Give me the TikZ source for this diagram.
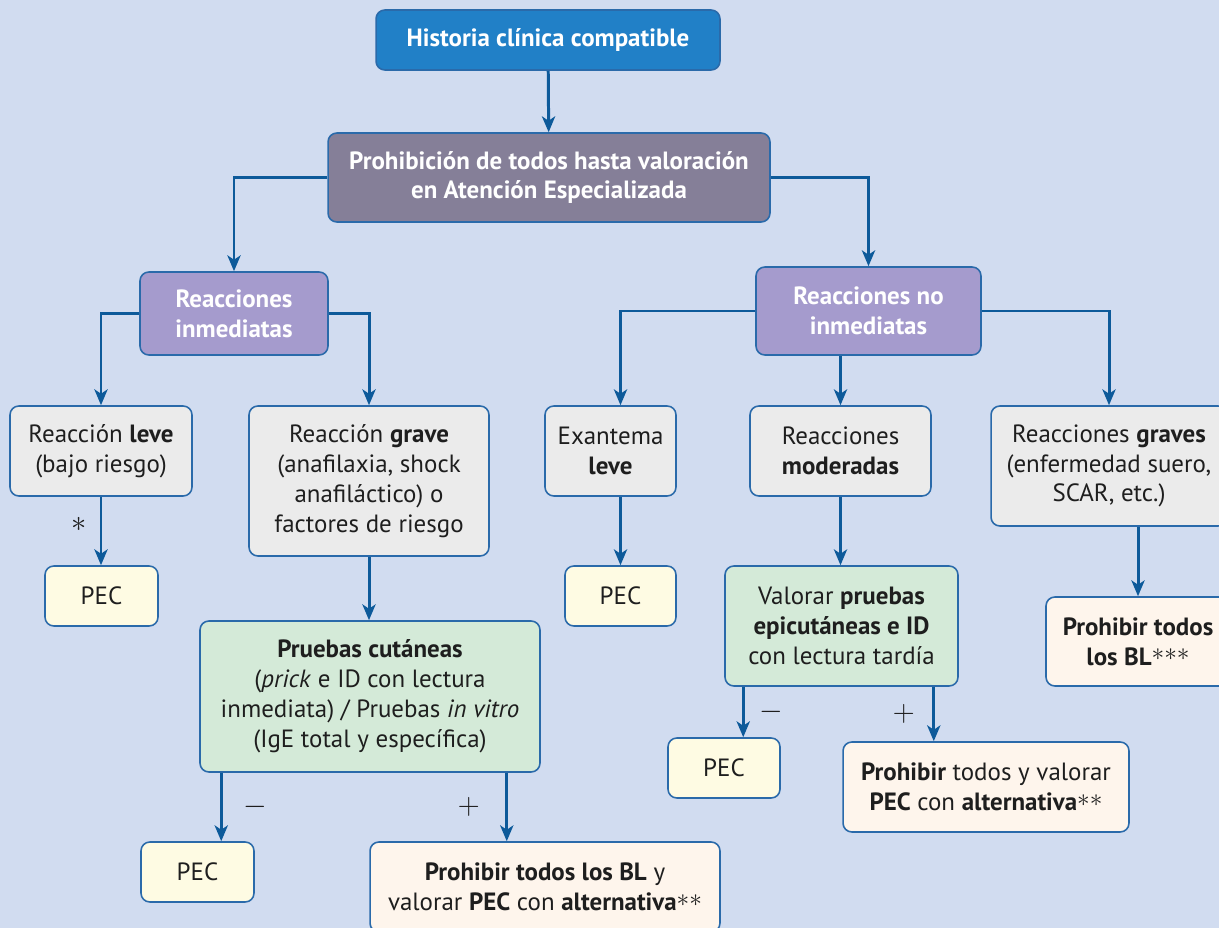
\documentclass[tikz,border=0pt]{standalone}
\usepackage{fontspec}
\setmainfont{PT Sans}
\usetikzlibrary{arrows.meta, positioning, calc}
\definecolor{cbg}{HTML}{D1DCF0}
\definecolor{cedge}{HTML}{2A6AAA}
\definecolor{carrow}{HTML}{0D5A9A}
\definecolor{cblue}{HTML}{2180C7}
\definecolor{cgrape}{HTML}{857F98}
\definecolor{clav}{HTML}{A59BCD}
\definecolor{cgrey}{HTML}{EBEBEB}
\definecolor{cpec}{HTML}{FEFBE3}
\definecolor{cgreen}{HTML}{D4EAD8}
\definecolor{cpeach}{HTML}{FEF5EC}
\definecolor{cink}{HTML}{1E1E1E}
\newcommand{\starmark}[1]{\raisebox{0.35ex}{$#1$}}
\tikzset{
  every picture/.style={font=\fontsize{14.2}{17}\selectfont, line width=0.9pt},
  box/.style={draw=cedge, fill=#1, rounded corners=5pt, align=center, inner sep=2pt, text=cink},
  box/.default=cgrey,
  head/.style={box=#1, text=white, font=\fontsize{14.2}{17}\selectfont\bfseries},
  arrow/.style={-{Stealth[length=9pt, width=7.5pt, inset=2.5pt]}, draw=carrow, line width=1.7pt},
  sign/.style={font=\fontsize{16}{17}\selectfont, text=cink},
}
\begin{document}
\begin{tikzpicture}[x=0.02cm, y=-0.02cm]
  \fill[cbg] (0,0) rectangle (1219,928);
  \useasboundingbox (0,0) rectangle (1219,928);
  % top levels
  \node[head=cblue, minimum width=6.88cm, minimum height=1.2cm] (hist) at (548,40) {Historia clínica compatible};
  \node[head=cgrape, minimum width=8.84cm, minimum height=1.78cm] (prohib) at (549,177.5) {Prohibición de todos hasta valoración\\en Atención Especializada};
  \node[head=clav, minimum width=3.76cm, minimum height=1.66cm] (inmed) at (234,313.5) {Reacciones\\inmediatas};
  \node[head=clav, minimum width=4.5cm, minimum height=1.76cm] (noinmed) at (868.5,311) {Reacciones no\\inmediatas};
  % reaction types
  \node[box, minimum width=3.64cm, minimum height=1.8cm] (leve) at (101,451) {Reacción \textbf{leve}\\(bajo riesgo)};
  \node[box, minimum width=4.8cm, minimum height=3cm] (grave) at (369,481) {Reacción \textbf{grave}\\(anafilaxia, shock\\anafiláctico) o\\factores de riesgo};
  \node[box, minimum width=2.62cm, minimum height=1.8cm] (exan) at (610.5,451) {Exantema\\\textbf{leve}};
  \node[box, minimum width=3.62cm, minimum height=1.8cm] (moder) at (840.5,451) {Reacciones\\\textbf{moderadas}};
  \node[box, minimum width=4.72cm, minimum height=2.4cm] (graves) at (1109,466) {Reacciones \textbf{graves}\\(enfermedad suero,\\SCAR, etc.)};
  % tests and outcomes
  \node[box=cpec, minimum width=2.26cm, minimum height=1.2cm] (pec1) at (101.5,596) {PEC};
  \node[box=cpec, minimum width=2.22cm, minimum height=1.2cm] (pec2) at (620.5,596) {PEC};
  \node[box=cgreen, minimum width=6.8cm, minimum height=3.02cm] (cutan) at (370,696.5) {\textbf{Pruebas cutáneas}\\(\textit{prick} e ID con lectura\\inmediata) / Pruebas \textit{in vitro}\\(IgE total y específica)};
  \node[box=cgreen, minimum width=4.66cm, minimum height=2.4cm] (epicut) at (841.5,626) {Valorar \textbf{pruebas}\\\textbf{epicutáneas e ID}\\con lectura tardía};
  \node[box=cpeach, minimum width=3.68cm, minimum height=1.78cm] (banBL) at (1138,641.5) {\textbf{Prohibir todos}\\\textbf{los BL}\starmark{{\ast}{\ast}{\ast}}};
  \node[box=cpec, minimum width=2.24cm, minimum height=1.2cm] (pec3) at (724,768) {PEC};
  \node[box=cpeach, minimum width=5.72cm, minimum height=1.8cm] (banval) at (986,787) {\textbf{Prohibir} todos y valorar\\\textbf{PEC} con \textbf{alternativa}\starmark{{\ast}{\ast}}};
  \node[box=cpec, minimum width=2.26cm, minimum height=1.2cm] (pec4) at (197.5,872) {PEC};
  \node[box=cpeach, minimum width=7cm, minimum height=1.8cm] (banall) at (545,887) {\textbf{Prohibir todos los BL} y\\valorar \textbf{PEC} con \textbf{alternativa}\starmark{{\ast}{\ast}}};
  % connectors
  \draw[arrow] (hist) -- (prohib);
  \draw[arrow] (prohib.west) -| (inmed.north);
  \draw[arrow] (prohib.east) -| (noinmed.north);
  \draw[arrow] (inmed.west) -| (leve.north);
  \draw[arrow] (inmed.east) -| (grave.north);
  \draw[arrow] (noinmed.west) -| (pec2.north |- exan.north);
  \draw[arrow] (moder.north |- noinmed.south) -- (moder.north);
  \draw[arrow] (noinmed.east) -| (graves.north);
  \draw[arrow] (leve.south) -- node[sign, pos=0.4, xshift=-0.44cm]{$\ast$} (leve.south |- pec1.north);
  \draw[arrow] (pec2.north |- exan.south) -- (pec2.north);
  \draw[arrow] (moder.south) -- (moder.south |- epicut.north);
  \draw[arrow] (banBL.north |- graves.south) -- (banBL.north);
  \draw[arrow] (grave.south) -- (grave.south |- cutan.north);
  \draw[arrow] ([xshift=0.44cm]cutan.south west) -- node[sign, midway, xshift=0.68cm]{$-$} ([xshift=0.44cm]cutan.south west |- pec4.north);
  \draw[arrow] ([xshift=-0.68cm]cutan.south east) -- node[sign, midway, xshift=-0.76cm]{$+$} ([xshift=-0.68cm]cutan.south east |- banall.north);
  \draw[arrow] ([xshift=0.38cm]epicut.south west) -- node[sign, midway, xshift=0.56cm]{$-$} ([xshift=0.38cm]epicut.south west |- pec3.north);
  \draw[arrow] ([xshift=-0.5cm]epicut.south east) -- node[sign, midway, xshift=-0.6cm]{$+$} ([xshift=-0.5cm]epicut.south east |- banval.north);
\end{tikzpicture}
\end{document}
